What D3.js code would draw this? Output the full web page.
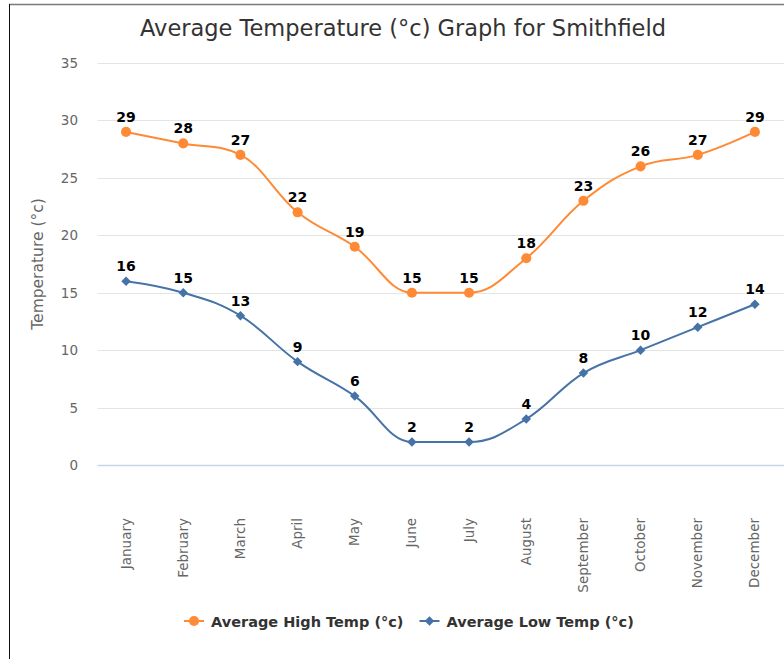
<!DOCTYPE html>
<html>
<head>
<meta charset="utf-8">
<script src="https://cdn.jsdelivr.net/npm/d3@7"></script>
<style>
  html, body { margin: 0; padding: 0; background: #fff; }
  svg { display: block; font-family: "DejaVu Sans", Verdana, sans-serif; }
</style>
</head>
<body>
<svg id="chart" width="784" height="659"></svg>
<script>
const months = ["January","February","March","April","May","June","July","August","September","October","November","December"]
const highTemps = [29, 28, 27, 22, 19, 15, 15, 18, 23, 26, 27, 29]
const lowTemps = [16, 15, 13, 9, 6, 2, 2, 4, 8, 10, 12, 14]
const yTicks = [0, 5, 10, 15, 20, 25, 30, 35]

const diamond = d3.symbolSquare
const series = [
  { name: "Average High Temp (°c)", values: highTemps, color: "#ff8a35", symbol: d3.symbolCircle, size: 80, rot: 0 },
  { name: "Average Low Temp (°c)", values: lowTemps, color: "#4572a7", symbol: diamond, size: 45, rot: 45 }
]

const svg = d3.select("#chart")
const plot = { left: 97.5, right: 783.5, top: 63, bottom: 465 }

const x = d3.scalePoint().domain(months).range([plot.left, plot.right]).padding(0.5)
const y = d3.scaleLinear().domain([0, 35]).range([plot.bottom, plot.top])

// frame of the page the chart sits in
svg.append("line").attr("x1", 9).attr("x2", 784).attr("y1", 4.5).attr("y2", 4.5)
  .attr("stroke", "#7a7a7a").attr("stroke-width", 1.5)
svg.append("line").attr("x1", 9.5).attr("x2", 9.5).attr("y1", 4).attr("y2", 659)
  .attr("stroke", "#111").attr("stroke-width", 1)

svg.append("text")
  .attr("x", 403).attr("y", 36)
  .attr("text-anchor", "middle")
  .style("font-size", "22.5px").style("fill", "#333")
  .text("Average Temperature (°c) Graph for Smithfield")

// grid + y labels
const yAxis = svg.append("g")
yAxis.selectAll("line.grid").data(yTicks.filter(t => t > 0)).enter().append("line")
  .attr("class", "grid")
  .attr("x1", plot.left).attr("x2", 784)
  .attr("y1", d => Math.round(y(d)) + 0.5).attr("y2", d => Math.round(y(d)) + 0.5)
  .attr("stroke", "#e4e4e4").attr("stroke-width", 1)
yAxis.append("line")
  .attr("x1", plot.left).attr("x2", 784)
  .attr("y1", Math.round(y(0)) + 0.5).attr("y2", Math.round(y(0)) + 0.5)
  .attr("stroke", "#c8d4e8").attr("stroke-width", 1.5)
yAxis.selectAll("text").data(yTicks).enter().append("text")
  .attr("x", 78).attr("y", d => y(d) + 5)
  .attr("text-anchor", "end")
  .style("font-size", "13.5px").style("fill", "#666")
  .text(d => d)

svg.append("text")
  .attr("transform", `translate(43,${(plot.top + plot.bottom) / 2}) rotate(-90)`)
  .attr("text-anchor", "middle")
  .style("font-size", "15.5px").style("fill", "#666")
  .text("Temperature (°c)")

// x labels
svg.append("g").selectAll("text").data(months).enter().append("text")
  .attr("transform", d => `translate(${x(d) + 4.5},518) rotate(-90)`)
  .attr("text-anchor", "end")
  .style("font-size", "13.5px").style("fill", "#666")
  .text(d => d)

// Highcharts-style spline
function splinePath(pts) {
  const smoothing = 1.5, denom = smoothing + 1
  const p = d3.path()
  const ctrl = []
  pts.forEach((pt, i) => {
    let lcx, lcy, rcx, rcy
    const last = pts[i - 1], next = pts[i + 1]
    if (last && next) {
      lcx = (smoothing * pt[0] + last[0]) / denom
      lcy = (smoothing * pt[1] + last[1]) / denom
      rcx = (smoothing * pt[0] + next[0]) / denom
      rcy = (smoothing * pt[1] + next[1]) / denom
      const corr = ((rcy - lcy) * (rcx - pt[0])) / (rcx - lcx) + pt[1] - rcy
      lcy += corr; rcy += corr
      if (lcy > last[1] && lcy > pt[1]) { lcy = Math.max(last[1], pt[1]); rcy = 2 * pt[1] - lcy }
      else if (lcy < last[1] && lcy < pt[1]) { lcy = Math.min(last[1], pt[1]); rcy = 2 * pt[1] - lcy }
      if (rcy > next[1] && rcy > pt[1]) { rcy = Math.max(next[1], pt[1]); lcy = 2 * pt[1] - rcy }
      else if (rcy < next[1] && rcy < pt[1]) { rcy = Math.min(next[1], pt[1]); lcy = 2 * pt[1] - rcy }
    }
    ctrl.push({ lcx, lcy, rcx, rcy })
    if (!i) p.moveTo(pt[0], pt[1])
    else {
      const lc = ctrl[i - 1]
      p.bezierCurveTo(
        lc.rcx ?? last[0], lc.rcy ?? last[1],
        lcx ?? pt[0], lcy ?? pt[1],
        pt[0], pt[1])
    }
  })
  return p.toString()
}

series.forEach(s => {
  const pts = s.values.map((v, i) => [x(months[i]), y(v)])
  const g = svg.append("g")
  g.append("path")
    .attr("d", splinePath(pts))
    .attr("fill", "none").attr("stroke", s.color).attr("stroke-width", 2)
  g.selectAll("path.marker").data(pts).enter().append("path")
    .attr("class", "marker")
    .attr("d", d3.symbol().type(s.symbol).size(s.size))
    .attr("transform", d => `translate(${d[0]},${d[1]}) rotate(${s.rot})`)
    .attr("fill", s.color)
  g.selectAll("text").data(s.values).enter().append("text")
    .attr("x", (d, i) => x(months[i])).attr("y", d => y(d) - 10)
    .attr("text-anchor", "middle")
    .style("font-size", "14px").style("font-weight", "bold").style("fill", "#000")
    .text(d => d)
})

// legend
const legend = svg.append("g")
let lx = 184
series.forEach(s => {
  const item = legend.append("g").attr("transform", `translate(${lx},621)`)
  item.append("line").attr("x1", 0).attr("x2", 20).attr("stroke", s.color).attr("stroke-width", 2)
  item.append("path").attr("d", d3.symbol().type(s.symbol).size(s.size))
    .attr("transform", `translate(10,0) rotate(${s.rot})`).attr("fill", s.color)
  const t = item.append("text").attr("x", 27).attr("y", 5.5)
    .style("font-size", "14.5px").style("font-weight", "bold").style("fill", "#333")
    .text(s.name)
  lx += 27 + t.node().getComputedTextLength() + 16
})
</script>
</body>
</html>
